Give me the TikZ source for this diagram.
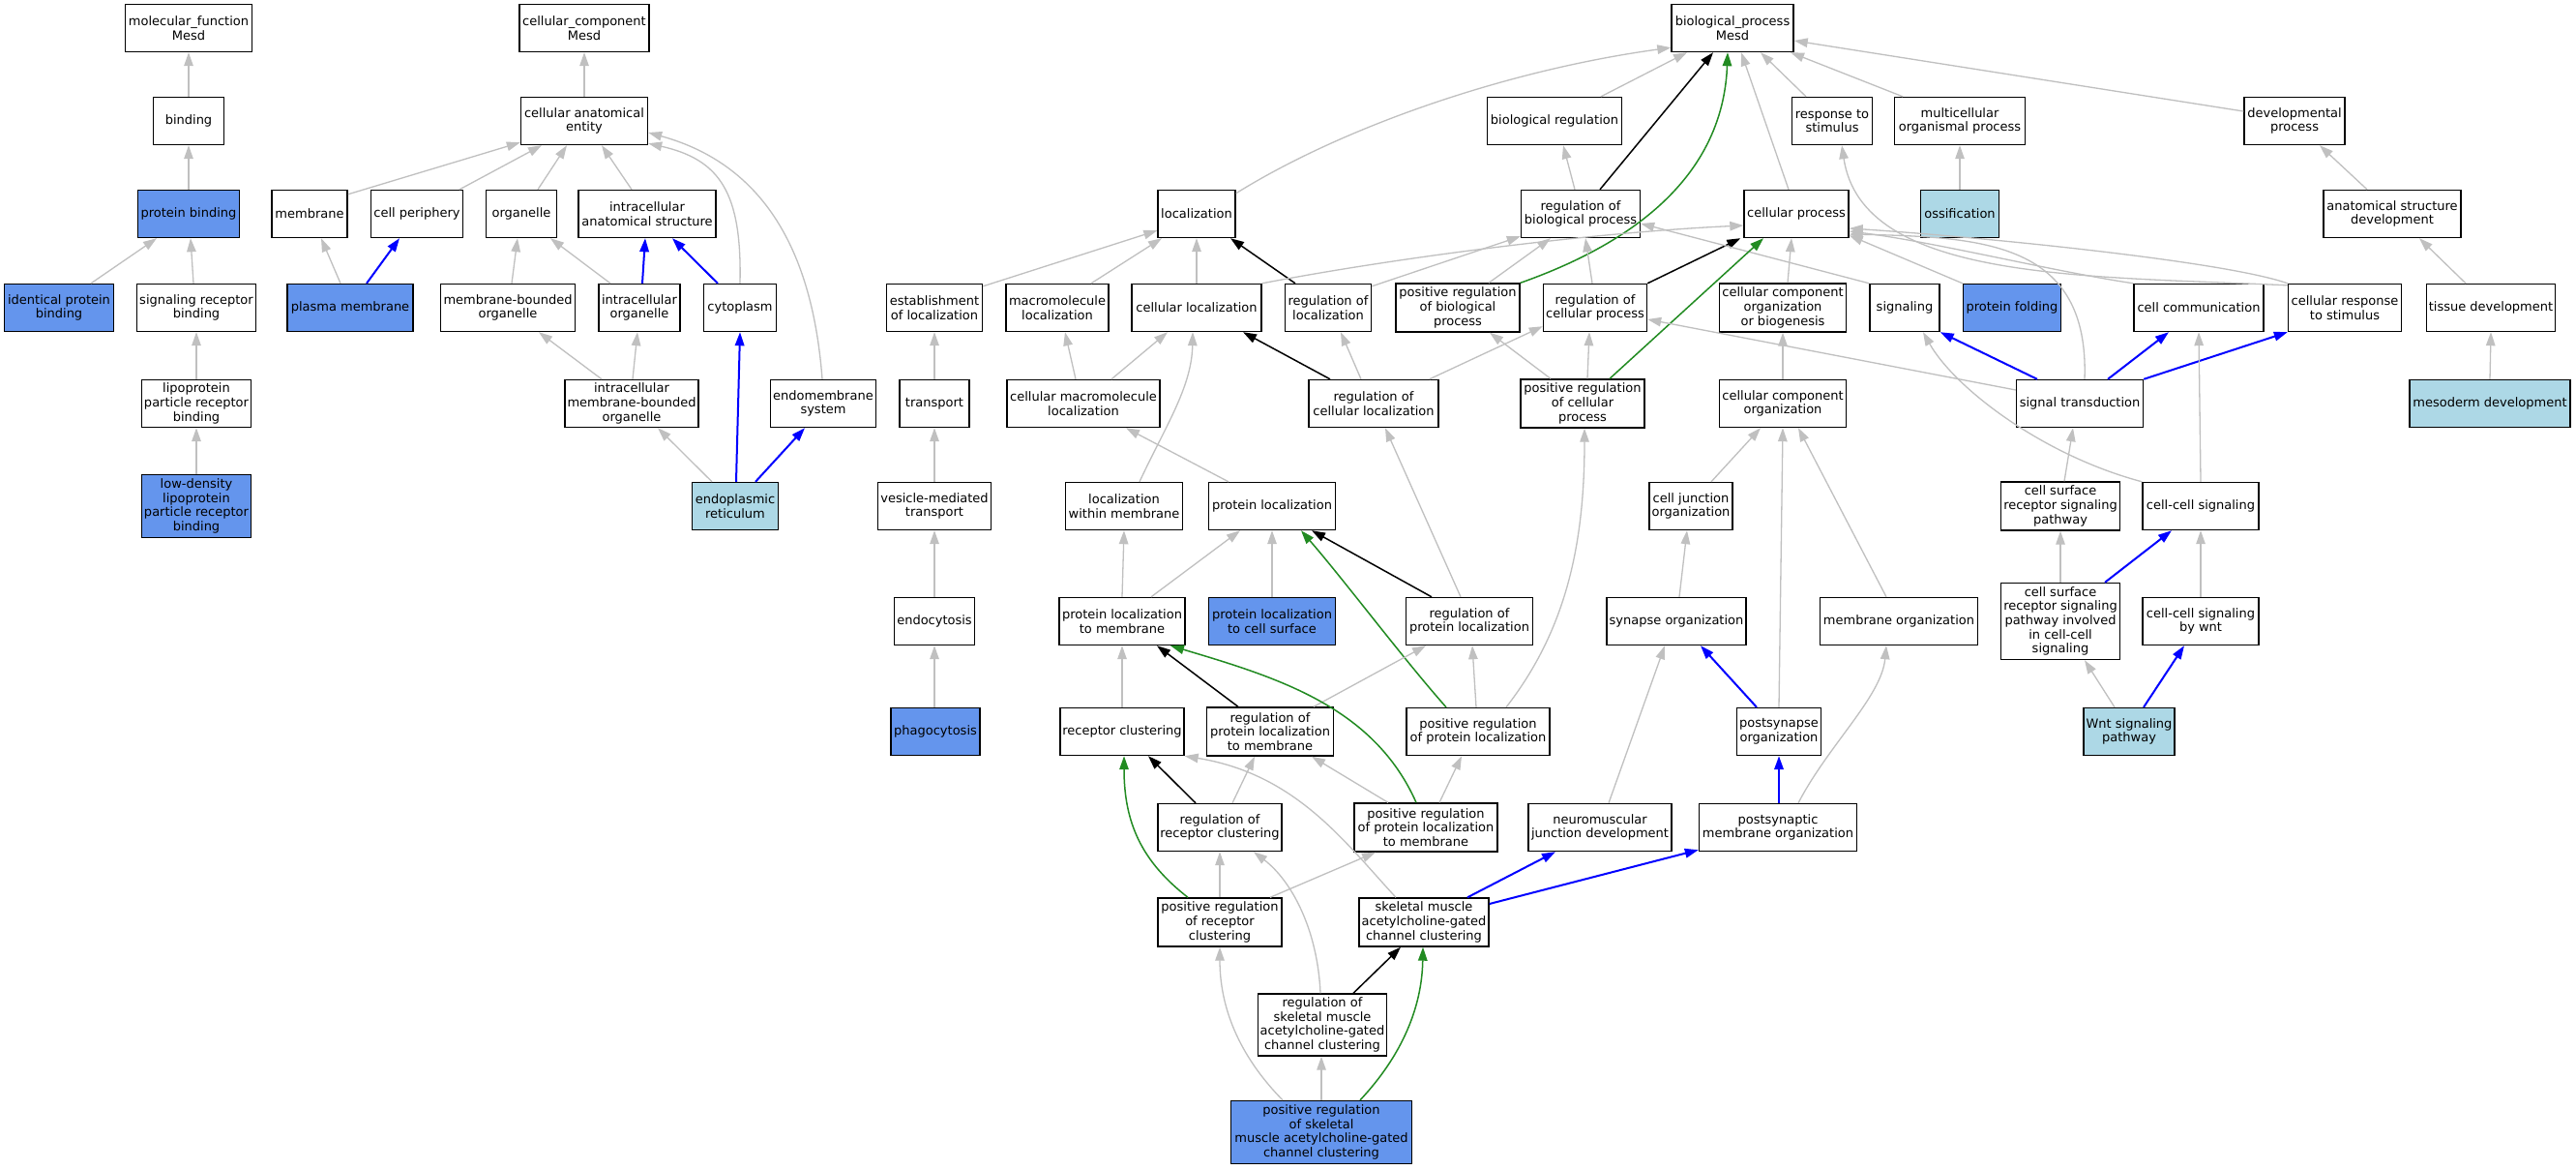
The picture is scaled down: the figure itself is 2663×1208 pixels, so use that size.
\documentclass[tikz,border=0pt]{standalone}
\usepackage{fontspec}
\setmainfont{DejaVu Sans}
\usetikzlibrary{arrows.meta,calc}
\definecolor{cfblue}{HTML}{6495ED}
\definecolor{lblue}{HTML}{ADD8E6}
\definecolor{egray}{HTML}{C0C0C0}
\definecolor{fgreen}{HTML}{228B22}
\definecolor{eblue}{HTML}{0000FF}
\tikzset{
 box/.style={draw=black, line width=1.4pt, fill=white, inner sep=0pt, align=center,
   font=\fontsize{13}{14.7}\selectfont, minimum height=49pt},
 hit/.style={box, fill=cfblue},
 leaf/.style={box, fill=lblue},
 tipd/.style={-{Triangle[length=14pt,width=9.5pt]}},
 isa/.style={tipd, draw=egray, line width=1.3pt},
 pof/.style={tipd, draw=eblue, line width=2pt},
 reg/.style={tipd, draw=black, line width=1.5pt},
 preg/.style={tipd, draw=fgreen, line width=1.5pt},
}
\newcommand\vedge[5]{\draw[#1] ($(#2.north)+(#3,0)$) -- ($(#4.south)+(#5,0)$);}
\begin{document}
\begin{tikzpicture}[x=1pt,y=-1pt]
\useasboundingbox (0,0) rectangle (2663,1208);
\fill[white] (0,0) rectangle (2663,1208);
% ---------- left block ----------
\node[box,minimum width=131pt] (mf) at (195,29) {molecular\_function\\Mesd};
\node[box,minimum width=134pt] (cc) at (604,29) {cellular\_component\\Mesd};
\node[box,minimum width=73pt] (bind) at (195,125) {binding};
\node[box,minimum width=131pt] (cae) at (604,125) {cellular anatomical\\entity};
\node[hit,minimum width=105pt] (pbind) at (195,221) {protein binding};
\node[box,minimum width=78pt] (memb) at (320,221) {membrane};
\node[box,minimum width=95pt] (cper) at (431,221) {cell periphery};
\node[box,minimum width=73pt] (orgl) at (539,221) {organelle};
\node[box,minimum width=142pt] (ias) at (669,221) {intracellular\\anatomical structure};
\node[hit,minimum width=113pt] (ipb) at (61,318) {identical protein\\binding};
\node[box,minimum width=123pt] (srb) at (203,318) {signaling receptor\\binding};
\node[hit,minimum width=130pt] (pm) at (362,318) {plasma membrane};
\node[box,minimum width=139pt] (mbo) at (525,318) {membrane-bounded\\organelle};
\node[box,minimum width=84pt] (io) at (661,318) {intracellular\\organelle};
\node[box,minimum width=75pt] (cyto) at (765,318) {cytoplasm};
\node[box,minimum width=113pt] (lprb) at (203,417) {lipoprotein\\particle receptor\\binding};
\node[box,minimum width=138pt] (imbo) at (653,417) {intracellular\\membrane-bounded\\organelle};
\node[box,minimum width=109pt] (ems) at (851,417) {endomembrane\\system};
\node[hit,minimum width=113pt,minimum height=65pt] (ldl) at (203,523) {low-density\\lipoprotein\\particle receptor\\binding};
\node[leaf,minimum width=89pt] (er) at (760,523) {endoplasmic\\reticulum};
% ---------- biological process ----------
\node[box,minimum width=126pt] (bp) at (1791,29) {biological\_process\\Mesd};
\node[box,minimum width=139pt] (breg) at (1607,125) {biological regulation};
\node[box,minimum width=83pt] (rts) at (1894,125) {response to\\stimulus};
\node[box,minimum width=135pt] (mop) at (2026,125) {multicellular\\organismal process};
\node[box,minimum width=104pt] (dp) at (2372,125) {developmental\\process};
\node[box,minimum width=80pt] (loc) at (1237,221) {localization};
\node[box,minimum width=123pt] (rbp) at (1634,221) {regulation of\\biological process};
\node[box,minimum width=108pt] (cp) at (1857,221) {cellular process};
\node[leaf,minimum width=81pt] (oss) at (2026,221) {ossification};
\node[box,minimum width=142pt] (asd) at (2473,221) {anatomical structure\\development};
\node[box,minimum width=99pt] (eol) at (966,318) {establishment\\of localization};
\node[box,minimum width=106pt] (mloc) at (1093,318) {macromolecule\\localization};
\node[box,minimum width=134pt] (cloc) at (1237,318) {cellular localization};
\node[box,minimum width=89pt] (rol) at (1373,318) {regulation of\\localization};
\node[box,minimum width=128pt,minimum height=50pt] (prbp) at (1507,318) {positive regulation\\of biological\\process};
\node[box,minimum width=107pt] (rcp) at (1649,318) {regulation of\\cellular process};
\node[box,minimum width=131pt,minimum height=50pt] (ccob) at (1843,318) {cellular component\\organization\\or biogenesis};
\node[box,minimum width=72pt] (sig) at (1969,318) {signaling};
\node[hit,minimum width=101pt] (pf) at (2080,318) {protein folding};
\node[box,minimum width=134pt] (ccom) at (2273,318) {cell communication};
\node[box,minimum width=117pt] (crs) at (2424,318) {cellular response\\to stimulus};
\node[box,minimum width=133pt] (td) at (2575,318) {tissue development};
\node[box,minimum width=72pt] (trans) at (966,417) {transport};
\node[box,minimum width=158pt] (cmloc) at (1120,417) {cellular macromolecule\\localization};
\node[box,minimum width=134pt] (rcloc) at (1420,417) {regulation of\\cellular localization};
\node[box,minimum width=128pt,minimum height=50pt] (prcp) at (1636,417) {positive regulation\\of cellular\\process};
\node[box,minimum width=131pt] (cco) at (1843,417) {cellular component\\organization};
\node[box,minimum width=131pt] (st) at (2150,417) {signal transduction};
\node[leaf,minimum width=166pt] (md) at (2574,417) {mesoderm development};
\node[box,minimum width=117pt] (vmt) at (966,523) {vesicle-mediated\\transport};
\node[box,minimum width=121pt] (lwm) at (1162,523) {localization\\within membrane};
\node[box,minimum width=131pt] (ploc) at (1315,523) {protein localization};
\node[box,minimum width=86pt] (cjo) at (1748,523) {cell junction\\organization};
\node[box,minimum width=123pt,minimum height=50pt] (csrsp) at (2130,523) {cell surface\\receptor signaling\\pathway};
\node[box,minimum width=120pt] (ccs) at (2275,523) {cell-cell signaling};
\node[box,minimum width=83pt] (endo) at (966,642) {endocytosis};
\node[box,minimum width=130pt] (pltm) at (1160,642) {protein localization\\to membrane};
\node[hit,minimum width=131pt] (pltcs) at (1315,642) {protein localization\\to cell surface};
\node[box,minimum width=131pt] (rpl) at (1519,642) {regulation of\\protein localization};
\node[box,minimum width=144pt] (so) at (1733,642) {synapse organization};
\node[box,minimum width=163pt] (mo) at (1963,642) {membrane organization};
\node[box,minimum width=123pt,minimum height=79pt] (csrspi) at (2130,642) {cell surface\\receptor signaling\\pathway involved\\in cell-cell\\signaling};
\node[box,minimum width=120pt] (ccsw) at (2275,642) {cell-cell signaling\\by wnt};
\node[hit,minimum width=92pt] (phago) at (967,756) {phagocytosis};
\node[box,minimum width=128pt] (rc) at (1160,756) {receptor clustering};
\node[box,minimum width=131pt,minimum height=50pt] (rpltm) at (1313,756) {regulation of\\protein localization\\to membrane};
\node[box,minimum width=148pt] (prpl) at (1528,756) {positive regulation\\of protein localization};
\node[box,minimum width=87pt] (pso) at (1839,756) {postsynapse\\organization};
\node[leaf,minimum width=94pt] (wnt) at (2201,756) {Wnt signaling\\pathway};
\node[box,minimum width=128pt] (rrc) at (1261,855) {regulation of\\receptor clustering};
\node[box,minimum width=148pt,minimum height=50pt] (prpltm) at (1474,855) {positive regulation\\of protein localization\\to membrane};
\node[box,minimum width=148pt] (njd) at (1654,855) {neuromuscular\\junction development};
\node[box,minimum width=163pt] (psmo) at (1838,855) {postsynaptic\\membrane organization};
\node[box,minimum width=128pt,minimum height=50pt] (prrc) at (1261,953) {positive regulation\\of receptor\\clustering};
\node[box,minimum width=134pt,minimum height=50pt] (smacc) at (1472,953) {skeletal muscle\\acetylcholine-gated\\channel clustering};
\node[box,minimum width=133pt,minimum height=64pt] (rsmacc) at (1367,1059) {regulation of\\skeletal muscle\\acetylcholine-gated\\channel clustering};
\node[hit,minimum width=187pt,minimum height=65pt] (prsmacc) at (1366,1170) {positive regulation\\of skeletal\\muscle acetylcholine-gated\\channel clustering};
% ---------- edges: left ----------
\vedge{isa}{bind}{0}{mf}{0}
\vedge{isa}{pbind}{0}{bind}{0}
\vedge{isa}{ipb}{33}{pbind}{-33}
\vedge{isa}{srb}{-3}{pbind}{2}
\vedge{isa}{lprb}{0}{srb}{0}
\vedge{isa}{ldl}{0}{lprb}{0}
\vedge{isa}{cae}{0}{cc}{0}
\draw[isa] ($(memb.north east)+(0,5)$) -- ($(cae.south west)+(0,-3)$);
\vedge{isa}{cper}{44}{cae}{-44}
\vedge{isa}{orgl}{17}{cae}{-18}
\vedge{isa}{ias}{-16}{cae}{18}
\draw[isa] (cyto.north) .. controls (767,200) and (745,165) .. ($(cae.south east)+(0,-2)$);
\draw[isa] ($(ems.north)+(-1,0)$) .. controls (840,260) and (790,170) .. ($(cae.east)+(0,12)$);
\vedge{isa}{pm}{-10}{memb}{12}
\vedge{pof}{pm}{17}{cper}{-18}
\vedge{isa}{mbo}{4}{orgl}{-4}
\vedge{isa}{io}{-30}{orgl}{30}
\vedge{pof}{io}{3}{ias}{-2}
\vedge{pof}{cyto}{-23}{ias}{26}
\vedge{isa}{imbo}{-31}{mbo}{32}
\vedge{isa}{imbo}{1}{io}{-2}
\vedge{isa}{er}{-24}{imbo}{27}
\vedge{pof}{er}{1}{cyto}{0}
\vedge{pof}{er}{21}{ems}{-19}
% ---------- edges: biological process ----------
\draw[isa] ($(loc.north east)+(0,4)$) .. controls (1390,130) and (1560,72) .. ($(bp.south west)+(0,-5)$);
\vedge{isa}{breg}{48}{bp}{-47}
\vedge{reg}{rbp}{20}{bp}{-20}
\vedge{isa}{rbp}{-6}{breg}{9}
\draw[preg] (prbp.north east) .. controls (1720,240) and (1782,160) .. ($(bp.south)+(-5,0)$);
\vedge{isa}{cp}{-8}{bp}{9}
\vedge{isa}{rts}{-27}{bp}{29}
\vedge{isa}{mop}{-59}{bp}{60}
\draw[isa] ($(dp.west)+(0,-10)$) -- ($(bp.east)+(0,13)$);
\draw[isa] ($(eol.north east)+(0,3)$) -- ($(loc.south west)+(0,-8)$);
\vedge{isa}{mloc}{35}{loc}{-36}
\vedge{isa}{cloc}{0}{loc}{0}
\vedge{reg}{rol}{-34}{loc}{35}
\draw[isa] ($(rol.north east)+(0,3)$) -- ($(rbp.south west)+(0,-2)$);
\vedge{isa}{prbp}{32}{rbp}{-31}
\vedge{isa}{rcp}{-3}{rbp}{5}
\draw[reg] (rcp.north east) -- ($(cp.south west)+(-3,0)$);
\draw[isa] (cloc.north east) .. controls (1450,265) and (1650,240) .. ($(cp.west)+(0,12)$);
\draw[isa] (sig.north west) -- ($(rbp.east)+(0,10)$);
\vedge{isa}{prcp}{5}{rcp}{-6}
\vedge{isa}{prcp}{-33}{prbp}{33}
\vedge{preg}{prcp}{28}{cp}{-34}
\vedge{isa}{rcloc}{-13}{rol}{13}
\vedge{reg}{rcloc}{-45}{cloc}{48}
\draw[isa] ($(rcloc.north east)+(-10,0)$) -- ($(rcp.south west)+(0,-6)$);
\vedge{isa}{trans}{0}{eol}{0}
\vedge{isa}{cmloc}{-8}{mloc}{8}
\vedge{isa}{cmloc}{29}{cloc}{-30}
\draw[isa] ($(lwm.north)+(16,0)$) .. controls (1205,440) and (1232,400) .. ($(cloc.south)+(-4,0)$);
\vedge{isa}{vmt}{0}{trans}{0}
\vedge{isa}{ploc}{-45}{cmloc}{44}
\vedge{isa}{endo}{0}{vmt}{0}
\vedge{isa}{pltm}{0}{lwm}{0}
\vedge{isa}{pltm}{30}{ploc}{-33}
\vedge{isa}{pltcs}{0}{ploc}{0}
\vedge{reg}{rpl}{-39}{ploc}{41}
\vedge{isa}{rpl}{-9}{rcloc}{12}
\draw[preg] ($(prpl.north)+(-33,0)$) .. controls (1450,680) and (1390,600) .. ($(ploc.south)+(30,0)$);
\vedge{isa}{prpl}{-2}{rpl}{3}
\draw[isa] ($(prpl.north)+(29,0)$) .. controls (1620,650) and (1638,560) .. ($(prcp.south)+(2,0)$);
\vedge{isa}{phago}{-1}{endo}{0}
\vedge{isa}{rc}{0}{pltm}{0}
\vedge{reg}{rpltm}{-33}{pltm}{36}
\vedge{isa}{rpltm}{45}{rpl}{-45}
\draw[preg] ($(prpltm.north)+(-10,0)$) .. controls (1420,730) and (1320,700) .. ($(pltm.south)+(50,0)$);
\vedge{isa}{prpltm}{-39}{rpltm}{43}
\vedge{isa}{prpltm}{14}{prpl}{-17}
\vedge{reg}{rrc}{-25}{rc}{27}
\vedge{isa}{rrc}{13}{rpltm}{-16}
\draw[preg] ($(prrc.north)+(-33,0)$) .. controls (1180,890) and (1162,850) .. ($(rc.south)+(2,0)$);
\vedge{isa}{prrc}{0}{rrc}{0}
\vedge{isa}{prrc}{52}{prpltm}{-52}
\draw[isa] ($(smacc.north)+(-29,0)$) .. controls (1390,870) and (1340,800) .. (rc.south east);
\vedge{pof}{smacc}{45}{njd}{-46}
\draw[pof] ($(smacc.east)+(0,-19)$) -- ($(psmo.south west)+(0,-2)$);
\vedge{reg}{rsmacc}{32}{smacc}{-24}
\draw[isa] ($(rsmacc.north)+(-2,0)$) .. controls (1362,960) and (1335,910) .. ($(rrc.south)+(35,0)$);
\vedge{isa}{prsmacc}{0}{rsmacc}{-1}
\draw[preg] ($(prsmacc.north)+(40,0)$) .. controls (1450,1090) and (1470,1040) .. ($(smacc.south)+(-1,0)$);
\draw[isa] ($(prsmacc.north)+(-40,0)$) .. controls (1280,1090) and (1261,1040) .. (prrc.south);
% ---------- edges: right ----------
\vedge{isa}{ccob}{5}{cp}{-5}
\draw[isa] (pf.north west) -- ($(cp.south east)+(0,-3)$);
\draw[isa] (ccom.north west) .. controls (2120,280) and (2000,250) .. ($(cp.east)+(0,18)$);
\draw[isa] (crs.north west) .. controls (2300,270) and (2050,245) .. ($(cp.east)+(0,15)$);
\draw[isa] ($(crs.north west)+(0,2)$) .. controls (2150,285) and (1925,290) .. ($(rts.south)+(10,0)$);
\draw[isa] ($(st.north)+(5,0)$) .. controls (2160,250) and (2050,245) .. ($(cp.east)+(0,21)$);
\draw[isa] ($(st.west)+(0,-14)$) -- ($(rcp.east)+(0,12)$);
\draw[pof] ($(st.north)+(-44,0)$) -- (sig.south east);
\vedge{pof}{st}{29}{ccom}{-31}
\draw[pof] (st.north east) -- (crs.south west);
\vedge{isa}{ccs}{0}{ccom}{0}
\draw[isa] (ccs.north west) .. controls (2110,470) and (2020,400) .. ($(sig.south)+(19,0)$);
\vedge{isa}{csrsp}{4}{st}{-7}
\vedge{isa}{csrspi}{0}{csrsp}{0}
\vedge{pof}{csrspi}{46}{ccs}{-30}
\vedge{isa}{ccsw}{0}{ccs}{0}
\vedge{isa}{wnt}{-15}{csrspi}{25}
\vedge{pof}{wnt}{15}{ccsw}{-17}
\vedge{isa}{md}{0}{td}{0}
\vedge{isa}{td}{-26}{asd}{28}
\vedge{isa}{asd}{-26}{dp}{26}
\vedge{isa}{oss}{0}{mop}{0}
\vedge{isa}{cco}{0}{ccob}{0}
\vedge{isa}{cjo}{21}{cco}{-23}
\vedge{isa}{so}{3}{cjo}{-4}
\vedge{pof}{pso}{-23}{so}{25}
\vedge{isa}{pso}{0}{cco}{0}
\vedge{isa}{mo}{-13}{cco}{16}
\vedge{pof}{psmo}{1}{pso}{0}
\draw[isa] ($(psmo.north)+(21,0)$) .. controls (1890,770) and (1945,720) .. ($(mo.south)+(-13,0)$);
\vedge{isa}{njd}{9}{so}{-12}
\end{tikzpicture}
\end{document}
